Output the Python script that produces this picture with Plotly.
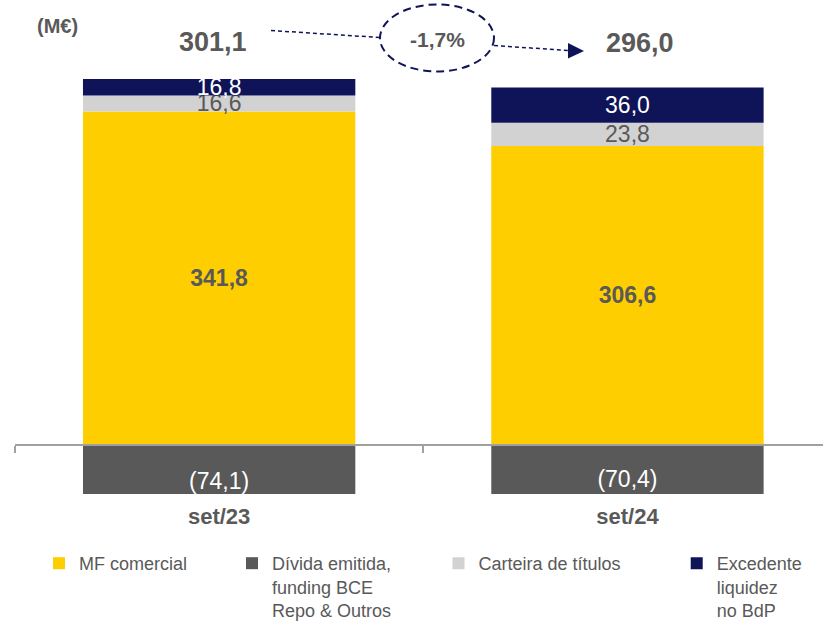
import plotly.graph_objects as go

# ---- data (M€) ----
categories = ["set/23", "set/24"]
mf_comercial = [341.8, 306.6]
divida_emitida = [-74.1, -70.4]
carteira_titulos = [16.6, 23.8]
excedente_liquidez = [16.8, 36.0]
totals = [301.1, 296.0]

series_names = [
    "MF comercial",
    "Dívida emitida,<br>funding BCE<br>Repo & Outros",
    "Carteira de títulos",
    "Excedente<br>liquidez<br>no BdP",
]

YELLOW = "#FFCE00"
DARK = "#595959"
LIGHT = "#D2D2D2"
NAVY = "#0F1459"
TXT = "#595959"
FONT = "Liberation Sans, Arial, sans-serif"

W, H = 823, 622
ML, MT, MB = 15, 0, 128
PW, PH = W - ML, H - MT - MB
PB = MT + PH


def px_x(x):
    return (x - ML) / PW


def px_y(y):
    return (PB - y) / PH


def fmt(v):
    s = f"{abs(v):.1f}".replace(".", ",")
    return f"({s})" if v < 0 else s


fig = go.Figure()


def add_bar(vals, name, color, tcolor, bold, legend):
    fig.add_trace(go.Bar(
        x=categories, y=vals, name=name,
        marker=dict(color=color, line=dict(width=0)),
        text=[fmt(v) for v in vals],
        textposition="inside", insidetextanchor="middle",
        textangle=0, constraintext="none",
        textfont=dict(family=FONT, size=23, color=tcolor,
                      weight="bold" if bold else "normal"),
        hoverinfo="skip", legend=legend,
    ))


add_bar(mf_comercial, series_names[0], YELLOW, TXT, True, "legend")
add_bar(divida_emitida, series_names[1], DARK, "white", False, "legend2")
add_bar(carteira_titulos, series_names[2], LIGHT, TXT, False, "legend3")
add_bar(excedente_liquidez, series_names[3], NAVY, "white", False, "legend4")

scale = 0.9755  # px per M€
zero_y = 445
y_top = zero_y / scale
y_bot = -(PB - zero_y) / scale

legend_common = dict(
    orientation="v", xanchor="left", yanchor="top",
    font=dict(family=FONT, size=18, color=TXT),
    bgcolor="rgba(0,0,0,0)", borderwidth=0, valign="top",
)
leg_text_x = [79, 272, 478.5, 716.7]
leg_top = 545
legends = {}
for i, key in enumerate(["legend", "legend2", "legend3", "legend4"]):
    legends[key] = dict(legend_common, x=px_x(leg_text_x[i] - 40), y=px_y(leg_top))

ann_common = dict(showarrow=False, xanchor="center", yanchor="middle")
annotations = [
    dict(ann_common, text="<b>(M€)</b>", xref="paper", yref="paper", x=px_x(57), y=px_y(26),
         font=dict(family=FONT, size=20, color=TXT)),
    dict(ann_common, text=f"<b>{fmt(totals[0])}</b>", xref="x", x=categories[0], xshift=-6.5,
         yref="paper", y=px_y(42),
         font=dict(family=FONT, size=27, color=TXT)),
    dict(ann_common, text=f"<b>{fmt(totals[1])}</b>", xref="x", x=categories[1], xshift=12.5,
         yref="paper", y=px_y(43),
         font=dict(family=FONT, size=27, color=TXT)),
    dict(ann_common, text="<b>" + f"{(totals[1] / totals[0] - 1) * 100:.1f}".replace(".", ",") + "%</b>",
         xref="paper", yref="paper", x=px_x(437), y=px_y(40),
         font=dict(family=FONT, size=21, color=TXT)),
]

shapes = [
    dict(type="circle", xref="paper", yref="paper",
         x0=px_x(380), x1=px_x(494), y0=px_y(4.5), y1=px_y(71.5),
         line=dict(color=NAVY, width=2, dash="8px,5px")),
    dict(type="line", xref="paper", yref="paper",
         x0=px_x(271), y0=px_y(30.5), x1=px_x(380), y1=px_y(37.5),
         line=dict(color=NAVY, width=1.5, dash="4px,3px")),
    dict(type="line", xref="paper", yref="paper",
         x0=px_x(494), y0=px_y(45.5), x1=px_x(568), y1=px_y(50.5),
         line=dict(color=NAVY, width=1.5, dash="4px,3px")),
    dict(type="path", xref="paper", yref="paper",
         path=f"M {px_x(568)},{px_y(43)} L {px_x(584)},{px_y(51)} L {px_x(568)},{px_y(58.5)} Z",
         fillcolor=NAVY, line=dict(color=NAVY, width=0)),
]

fig.update_layout(
    width=W, height=H,
    margin=dict(l=ML, r=0, t=MT, b=MB, autoexpand=False),
    barmode="relative", bargap=0.333,
    plot_bgcolor="white", paper_bgcolor="white",
    separators=",.",
    font=dict(family=FONT, color=TXT),
    xaxis=dict(
        type="category", categoryorder="array", categoryarray=categories,
        range=[-0.5, (W - ML) / 408.3 - 0.5],
        anchor="free", position=(PB - zero_y) / PH,
        showline=True, linecolor="#A0A0A0", linewidth=1.5,
        ticks="outside", tickson="boundaries", ticklen=7, tickcolor="#A0A0A0", tickwidth=1.5,
        tickfont=dict(family=FONT, size=22, color=TXT, weight="bold"),
        ticklabelstandoff=52, showgrid=False, zeroline=False, fixedrange=True,
    ),
    yaxis=dict(range=[y_bot, y_top], visible=False, showgrid=False, zeroline=False,
               fixedrange=True),
    showlegend=True,
    annotations=annotations,
    shapes=shapes,
    **legends,
)

fig.write_html("out.html")
